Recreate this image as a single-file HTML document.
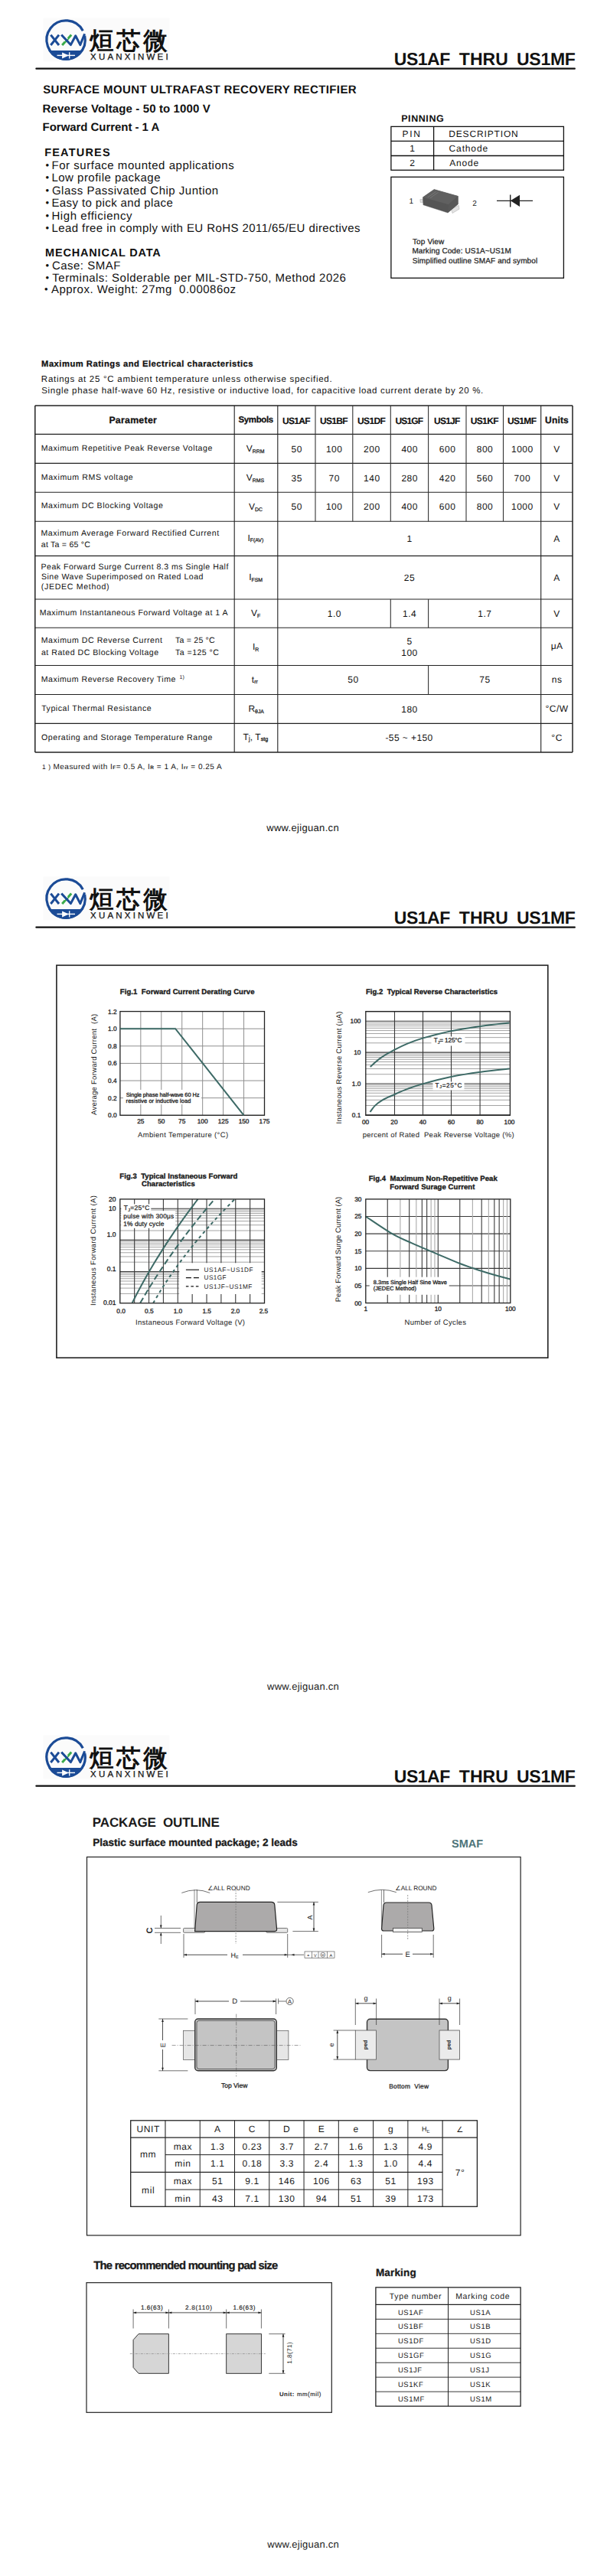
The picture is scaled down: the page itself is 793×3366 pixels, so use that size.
<!DOCTYPE html>
<html><head><meta charset="utf-8"><title>US1AF THRU US1MF</title>
<style>
html,body{margin:0;padding:0;background:#fff;}
body{width:793px;height:3366px;overflow:hidden;position:relative;}
svg{position:absolute;left:0;top:0;display:block;}
text{font-family:'Liberation Sans', Arial, sans-serif;}
</style></head><body>
<svg width="793" height="3366" viewBox="0 0 793 3366" text-rendering="geometricPrecision">
<g transform="translate(0,0)">
<rect x="56.50" y="23.50" width="165.00" height="57.00" stroke="none" stroke-width="0" fill="#fbfbfb" />
<path d="M63.28,66.1 A26.799999999999997,26.799999999999997 0 0 0 108.92,66.1 Z" fill="#1b4b96"/>
<path d="M110.70,46.82 A25.15,25.15 0 1 1 108.31,40.24" fill="none" stroke="#1b4b96" stroke-width="3.2"/>
<line x1="74.50" y1="72.40" x2="98.00" y2="72.40" stroke="#fff" stroke-width="1.4" />
<path d="M81.1,68.4 L89.8,72.4 L81.1,76.5 Z" fill="#fff"/>
<line x1="90.70" y1="68.30" x2="90.70" y2="76.60" stroke="#fff" stroke-width="1.3" />
<line x1="66.30" y1="45.60" x2="77.00" y2="59.00" stroke="#1b4b96" stroke-width="3.0" />
<line x1="77.00" y1="45.60" x2="66.30" y2="59.00" stroke="#1b4b96" stroke-width="3.0" />
<line x1="93.20" y1="45.60" x2="81.20" y2="59.00" stroke="#3aab4a" stroke-width="3.0" />
<path d="M80.2,45.2 L86.6,52.3" fill="none" stroke="#fbfbfb" stroke-width="6"/>
<polyline points="80.2,45.4 92.4,58.6 98.7,46.8 104.8,58.6 110.6,44.2" fill="none" stroke="#1b4b96" stroke-width="3.0" stroke-linejoin="round"/>
<text x="117.00" y="63.90" font-size="31.5" fill="#111" textLength="101.80" lengthAdjust="spacing" font-family="'Liberation Sans', 'Noto Sans CJK SC', sans-serif" font-weight="bold">烜芯微</text>
<text x="118.04" y="77.90" font-size="11.5" fill="#111" textLength="101.62" lengthAdjust="spacing" stroke="#111" stroke-width="0.25">XUANXINWEI</text>
<rect x="46.30" y="88.50" width="705.60" height="2.20" stroke="none" stroke-width="0" fill="#111" rx="1"/>
<text x="514.82" y="84.70" font-size="23" font-weight="bold" fill="#111" textLength="73.42" lengthAdjust="spacing">US1AF</text>
<text x="599.84" y="84.70" font-size="23" font-weight="bold" fill="#111" textLength="63.96" lengthAdjust="spacing">THRU</text>
<text x="675.02" y="84.70" font-size="23" font-weight="bold" fill="#111" textLength="76.82" lengthAdjust="spacing">US1MF</text>
</g>
<g transform="translate(0,1122)">
<rect x="56.50" y="23.50" width="165.00" height="57.00" stroke="none" stroke-width="0" fill="#fbfbfb" />
<path d="M63.28,66.1 A26.799999999999997,26.799999999999997 0 0 0 108.92,66.1 Z" fill="#1b4b96"/>
<path d="M110.70,46.82 A25.15,25.15 0 1 1 108.31,40.24" fill="none" stroke="#1b4b96" stroke-width="3.2"/>
<line x1="74.50" y1="72.40" x2="98.00" y2="72.40" stroke="#fff" stroke-width="1.4" />
<path d="M81.1,68.4 L89.8,72.4 L81.1,76.5 Z" fill="#fff"/>
<line x1="90.70" y1="68.30" x2="90.70" y2="76.60" stroke="#fff" stroke-width="1.3" />
<line x1="66.30" y1="45.60" x2="77.00" y2="59.00" stroke="#1b4b96" stroke-width="3.0" />
<line x1="77.00" y1="45.60" x2="66.30" y2="59.00" stroke="#1b4b96" stroke-width="3.0" />
<line x1="93.20" y1="45.60" x2="81.20" y2="59.00" stroke="#3aab4a" stroke-width="3.0" />
<path d="M80.2,45.2 L86.6,52.3" fill="none" stroke="#fbfbfb" stroke-width="6"/>
<polyline points="80.2,45.4 92.4,58.6 98.7,46.8 104.8,58.6 110.6,44.2" fill="none" stroke="#1b4b96" stroke-width="3.0" stroke-linejoin="round"/>
<text x="117.00" y="63.90" font-size="31.5" fill="#111" textLength="101.80" lengthAdjust="spacing" font-family="'Liberation Sans', 'Noto Sans CJK SC', sans-serif" font-weight="bold">烜芯微</text>
<text x="118.04" y="77.90" font-size="11.5" fill="#111" textLength="101.62" lengthAdjust="spacing" stroke="#111" stroke-width="0.25">XUANXINWEI</text>
<rect x="46.30" y="88.50" width="705.60" height="2.20" stroke="none" stroke-width="0" fill="#111" rx="1"/>
<text x="514.82" y="84.70" font-size="23" font-weight="bold" fill="#111" textLength="73.42" lengthAdjust="spacing">US1AF</text>
<text x="599.84" y="84.70" font-size="23" font-weight="bold" fill="#111" textLength="63.96" lengthAdjust="spacing">THRU</text>
<text x="675.02" y="84.70" font-size="23" font-weight="bold" fill="#111" textLength="76.82" lengthAdjust="spacing">US1MF</text>
</g>
<g transform="translate(0,2244)">
<rect x="56.50" y="23.50" width="165.00" height="57.00" stroke="none" stroke-width="0" fill="#fbfbfb" />
<path d="M63.28,66.1 A26.799999999999997,26.799999999999997 0 0 0 108.92,66.1 Z" fill="#1b4b96"/>
<path d="M110.70,46.82 A25.15,25.15 0 1 1 108.31,40.24" fill="none" stroke="#1b4b96" stroke-width="3.2"/>
<line x1="74.50" y1="72.40" x2="98.00" y2="72.40" stroke="#fff" stroke-width="1.4" />
<path d="M81.1,68.4 L89.8,72.4 L81.1,76.5 Z" fill="#fff"/>
<line x1="90.70" y1="68.30" x2="90.70" y2="76.60" stroke="#fff" stroke-width="1.3" />
<line x1="66.30" y1="45.60" x2="77.00" y2="59.00" stroke="#1b4b96" stroke-width="3.0" />
<line x1="77.00" y1="45.60" x2="66.30" y2="59.00" stroke="#1b4b96" stroke-width="3.0" />
<line x1="93.20" y1="45.60" x2="81.20" y2="59.00" stroke="#3aab4a" stroke-width="3.0" />
<path d="M80.2,45.2 L86.6,52.3" fill="none" stroke="#fbfbfb" stroke-width="6"/>
<polyline points="80.2,45.4 92.4,58.6 98.7,46.8 104.8,58.6 110.6,44.2" fill="none" stroke="#1b4b96" stroke-width="3.0" stroke-linejoin="round"/>
<text x="117.00" y="63.90" font-size="31.5" fill="#111" textLength="101.80" lengthAdjust="spacing" font-family="'Liberation Sans', 'Noto Sans CJK SC', sans-serif" font-weight="bold">烜芯微</text>
<text x="118.04" y="77.90" font-size="11.5" fill="#111" textLength="101.62" lengthAdjust="spacing" stroke="#111" stroke-width="0.25">XUANXINWEI</text>
<rect x="46.30" y="88.50" width="705.60" height="2.20" stroke="none" stroke-width="0" fill="#111" rx="1"/>
<text x="514.82" y="84.70" font-size="23" font-weight="bold" fill="#111" textLength="73.42" lengthAdjust="spacing">US1AF</text>
<text x="599.84" y="84.70" font-size="23" font-weight="bold" fill="#111" textLength="63.96" lengthAdjust="spacing">THRU</text>
<text x="675.02" y="84.70" font-size="23" font-weight="bold" fill="#111" textLength="76.82" lengthAdjust="spacing">US1MF</text>
</g>
<text x="56.17" y="122.20" font-size="15" font-weight="bold" fill="#111" textLength="409.44" lengthAdjust="spacing">SURFACE MOUNT ULTRAFAST RECOVERY RECTIFIER</text>
<text x="55.60" y="146.70" font-size="15" font-weight="bold" fill="#111" textLength="219.11" lengthAdjust="spacing">Reverse Voltage - 50 to 1000 V</text>
<text x="55.60" y="171.10" font-size="15" font-weight="bold" fill="#111" textLength="152.70" lengthAdjust="spacing">Forward Current - 1 A</text>
<text x="58.23" y="203.80" font-size="14.5" font-weight="bold" fill="#111" textLength="85.34" lengthAdjust="spacing">FEATURES</text>
<text x="59.40" y="220.00" font-size="13" fill="#111">•</text>
<text x="67.47" y="221.00" font-size="15" fill="#111" textLength="238.27" lengthAdjust="spacing">For surface mounted applications</text>
<text x="59.40" y="236.40" font-size="13" fill="#111">•</text>
<text x="67.47" y="237.40" font-size="15" fill="#111" textLength="142.00" lengthAdjust="spacing">Low profile package</text>
<text x="59.40" y="252.80" font-size="13" fill="#111">•</text>
<text x="67.95" y="253.80" font-size="15" fill="#111" textLength="217.23" lengthAdjust="spacing">Glass Passivated Chip Juntion</text>
<text x="59.40" y="269.20" font-size="13" fill="#111">•</text>
<text x="67.47" y="270.20" font-size="15" fill="#111" textLength="158.30" lengthAdjust="spacing">Easy to pick and place</text>
<text x="59.40" y="285.60" font-size="13" fill="#111">•</text>
<text x="67.47" y="286.60" font-size="15" fill="#111" textLength="105.06" lengthAdjust="spacing">High efficiency</text>
<text x="59.40" y="302.00" font-size="13" fill="#111">•</text>
<text x="67.47" y="303.00" font-size="15" fill="#111" textLength="403.07" lengthAdjust="spacing">Lead free in comply with EU RoHS 2011/65/EU directives</text>
<text x="59.03" y="335.00" font-size="14.5" font-weight="bold" fill="#111" textLength="150.75" lengthAdjust="spacing">MECHANICAL DATA</text>
<text x="59.40" y="351.20" font-size="13" fill="#111">•</text>
<text x="67.94" y="352.20" font-size="15" fill="#111" textLength="89.36" lengthAdjust="spacing">Case: SMAF</text>
<text x="59.40" y="366.70" font-size="13" fill="#111">•</text>
<text x="68.36" y="367.70" font-size="15" fill="#111" textLength="383.50" lengthAdjust="spacing">Terminals: Solderable per MIL-STD-750, Method 2026</text>
<text x="58.00" y="382.20" font-size="13" fill="#111">•</text>
<text x="66.97" y="383.20" font-size="15" fill="#111" textLength="241.08" lengthAdjust="spacing">Approx. Weight: 27mg  0.00086oz</text>
<text x="524.16" y="159.20" font-size="12.5" font-weight="bold" fill="#111" textLength="55.61" lengthAdjust="spacing">PINNING</text>
<rect x="510.90" y="165.40" width="225.50" height="56.90" stroke="#111" stroke-width="1.3" fill="none" />
<line x1="510.90" y1="184.40" x2="736.40" y2="184.40" stroke="#111" stroke-width="1.3" />
<line x1="510.90" y1="203.50" x2="736.40" y2="203.50" stroke="#111" stroke-width="1.3" />
<line x1="566.60" y1="165.40" x2="566.60" y2="222.30" stroke="#111" stroke-width="1.3" />
<text x="525.42" y="179.00" font-size="12" fill="#111" textLength="23.46" lengthAdjust="spacing">PIN</text>
<text x="538.50" y="198.10" font-size="12" text-anchor="middle" fill="#111">1</text>
<text x="538.50" y="217.30" font-size="12" text-anchor="middle" fill="#111">2</text>
<text x="586.22" y="179.00" font-size="12" fill="#111" textLength="90.56" lengthAdjust="spacing">DESCRIPTION</text>
<text x="586.59" y="198.10" font-size="12" fill="#111" textLength="50.54" lengthAdjust="spacing">Cathode</text>
<text x="587.18" y="217.30" font-size="12" fill="#111" textLength="37.96" lengthAdjust="spacing">Anode</text>
<rect x="510.90" y="231.30" width="225.50" height="132.00" stroke="#111" stroke-width="1.3" fill="none" />
<text x="537.30" y="266.20" font-size="10" text-anchor="middle" fill="#222">1</text>
<text x="620.00" y="269.40" font-size="10" text-anchor="middle" fill="#222">2</text>
<path d="M548.8,260.6 L552.6,260.2 L552.8,264.4 L549.2,264.5 Z" fill="#e0e0e0" stroke="#aaa" stroke-width="0.5"/>
<path d="M589.5,273.3 L599.2,268.3 L600,273.2 L591,278.6 Z" fill="#e2e2e2" stroke="#aaa" stroke-width="0.5"/>
<path d="M552.4,257.8 L567.2,247.4 L598.4,256.3 L598.4,266.7 L585,278.1 L552.9,267.7 Z" fill="#555" stroke="#555" stroke-width="0.4"/>
<path d="M552.4,257.8 L567.2,247.4 L598.4,256.3 L586,267.2 Z" fill="#606060"/>
<path d="M586,267.2 L598.4,256.3 L598.4,266.7 L585,278.1 Z" fill="#585858"/>
<line x1="558.80" y1="257.80" x2="569.70" y2="250.40" stroke="#8c8c8c" stroke-width="0.5" />
<line x1="562.00" y1="258.70" x2="572.60" y2="251.30" stroke="#8c8c8c" stroke-width="0.5" />
<line x1="649.00" y1="262.30" x2="696.00" y2="262.30" stroke="#222" stroke-width="1.2" />
<line x1="666.70" y1="254.50" x2="666.70" y2="270.60" stroke="#222" stroke-width="1.4" />
<path d="M666.9,262.3 L679,254.8 L679,270 Z" fill="#222"/>
<text x="538.98" y="318.90" font-size="10" fill="#222" textLength="41.30" lengthAdjust="spacing" stroke="#222" stroke-width="0.25">Top View</text>
<text x="538.38" y="331.40" font-size="10" fill="#222" textLength="129.44" lengthAdjust="spacing" stroke="#222" stroke-width="0.25">Marking Code: US1A~US1M</text>
<text x="538.75" y="344.00" font-size="10" fill="#222" textLength="163.42" lengthAdjust="spacing" stroke="#222" stroke-width="0.25">Simplified outline SMAF and symbol</text>
<text x="54.05" y="479.00" font-size="11.2" font-weight="bold" fill="#111" textLength="276.51" lengthAdjust="spacing" stroke="#1a1a1a" stroke-width="0.3">Maximum Ratings and Electrical characteristics</text>
<text x="53.86" y="499.00" font-size="11.5" fill="#111" textLength="379.79" lengthAdjust="spacing">Ratings at 25 °C ambient temperature unless otherwise specified.</text>
<text x="54.28" y="514.40" font-size="11.5" fill="#111" textLength="576.97" lengthAdjust="spacing">Single phase half-wave 60 Hz, resistive or inductive load, for capacitive load current derate by 20 %.</text>
<line x1="45.80" y1="529.90" x2="748.00" y2="529.90" stroke="#222" stroke-width="1.5" />
<line x1="45.80" y1="567.40" x2="748.00" y2="567.40" stroke="#222" stroke-width="1.1" />
<line x1="45.80" y1="605.40" x2="748.00" y2="605.40" stroke="#222" stroke-width="1.1" />
<line x1="45.80" y1="643.20" x2="748.00" y2="643.20" stroke="#222" stroke-width="1.1" />
<line x1="45.80" y1="681.20" x2="748.00" y2="681.20" stroke="#222" stroke-width="1.1" />
<line x1="45.80" y1="726.40" x2="748.00" y2="726.40" stroke="#222" stroke-width="1.1" />
<line x1="45.80" y1="783.00" x2="748.00" y2="783.00" stroke="#222" stroke-width="1.1" />
<line x1="45.80" y1="820.20" x2="748.00" y2="820.20" stroke="#222" stroke-width="1.1" />
<line x1="45.80" y1="869.50" x2="748.00" y2="869.50" stroke="#222" stroke-width="1.1" />
<line x1="45.80" y1="907.50" x2="748.00" y2="907.50" stroke="#222" stroke-width="1.1" />
<line x1="45.80" y1="945.40" x2="748.00" y2="945.40" stroke="#222" stroke-width="1.1" />
<line x1="45.80" y1="983.00" x2="748.00" y2="983.00" stroke="#222" stroke-width="1.5" />
<line x1="45.80" y1="529.90" x2="45.80" y2="983.00" stroke="#222" stroke-width="1.5" />
<line x1="748.00" y1="529.90" x2="748.00" y2="983.00" stroke="#222" stroke-width="1.5" />
<line x1="306.20" y1="529.90" x2="306.20" y2="983.00" stroke="#222" stroke-width="1.1" />
<line x1="362.80" y1="529.90" x2="362.80" y2="983.00" stroke="#222" stroke-width="1.1" />
<line x1="706.70" y1="529.90" x2="706.70" y2="983.00" stroke="#222" stroke-width="1.1" />
<line x1="412.00" y1="529.90" x2="412.00" y2="681.20" stroke="#333" stroke-width="1.1" />
<line x1="460.80" y1="529.90" x2="460.80" y2="681.20" stroke="#333" stroke-width="1.1" />
<line x1="510.30" y1="529.90" x2="510.30" y2="681.20" stroke="#333" stroke-width="1.1" />
<line x1="559.60" y1="529.90" x2="559.60" y2="681.20" stroke="#333" stroke-width="1.1" />
<line x1="609.00" y1="529.90" x2="609.00" y2="681.20" stroke="#333" stroke-width="1.1" />
<line x1="657.50" y1="529.90" x2="657.50" y2="681.20" stroke="#333" stroke-width="1.1" />
<line x1="510.30" y1="783.00" x2="510.30" y2="820.20" stroke="#333" stroke-width="1.1" />
<line x1="559.60" y1="783.00" x2="559.60" y2="820.20" stroke="#333" stroke-width="1.1" />
<line x1="559.60" y1="869.50" x2="559.60" y2="907.50" stroke="#333" stroke-width="1.1" />
<text x="142.38" y="553.40" font-size="12.3" font-weight="bold" fill="#111" textLength="62.41" lengthAdjust="spacing" stroke="#1a1a1a" stroke-width="0.3">Parameter</text>
<text x="311.57" y="552.30" font-size="11.5" font-weight="bold" fill="#111" textLength="45.60" lengthAdjust="spacing" stroke="#1a1a1a" stroke-width="0.3">Symbols</text>
<text x="368.88" y="554.00" font-size="12" font-weight="bold" fill="#111" textLength="36.76" lengthAdjust="spacing" stroke="#1a1a1a" stroke-width="0.15">US1AF</text>
<text x="417.88" y="554.00" font-size="12" font-weight="bold" fill="#111" textLength="36.76" lengthAdjust="spacing" stroke="#1a1a1a" stroke-width="0.15">US1BF</text>
<text x="467.03" y="554.00" font-size="12" font-weight="bold" fill="#111" textLength="36.76" lengthAdjust="spacing" stroke="#1a1a1a" stroke-width="0.15">US1DF</text>
<text x="516.43" y="554.00" font-size="12" font-weight="bold" fill="#111" textLength="36.76" lengthAdjust="spacing" stroke="#1a1a1a" stroke-width="0.15">US1GF</text>
<text x="567.08" y="554.00" font-size="12" font-weight="bold" fill="#111" textLength="34.16" lengthAdjust="spacing" stroke="#1a1a1a" stroke-width="0.15">US1JF</text>
<text x="614.73" y="554.00" font-size="12" font-weight="bold" fill="#111" textLength="36.76" lengthAdjust="spacing" stroke="#1a1a1a" stroke-width="0.15">US1KF</text>
<text x="662.88" y="554.00" font-size="12" font-weight="bold" fill="#111" textLength="38.16" lengthAdjust="spacing" stroke="#1a1a1a" stroke-width="0.15">US1MF</text>
<text x="712.08" y="553.40" font-size="12" font-weight="bold" fill="#111" textLength="30.71" lengthAdjust="spacing" stroke="#1a1a1a" stroke-width="0.3">Units</text>
<text x="53.73" y="588.50" font-size="10.6" fill="#111" textLength="223.64" lengthAdjust="spacing">Maximum Repetitive Peak Reverse Voltage</text>
<text x="53.73" y="626.50" font-size="10.6" fill="#111" textLength="120.04" lengthAdjust="spacing">Maximum RMS voltage</text>
<text x="53.73" y="664.30" font-size="10.6" fill="#111" textLength="159.14" lengthAdjust="spacing">Maximum DC Blocking Voltage</text>
<text x="53.53" y="699.60" font-size="10.6" fill="#111" textLength="232.55" lengthAdjust="spacing">Maximum Average Forward Rectified Current</text>
<text x="53.75" y="714.50" font-size="10.6" fill="#111" textLength="64.25" lengthAdjust="spacing">at Ta = 65 °C</text>
<text x="53.53" y="743.50" font-size="10.6" fill="#111" textLength="244.85" lengthAdjust="spacing">Peak Forward Surge Current 8.3 ms Single Half</text>
<text x="53.92" y="756.60" font-size="10.6" fill="#111" textLength="211.56" lengthAdjust="spacing">Sine Wave Superimposed on Rated Load</text>
<text x="53.74" y="769.80" font-size="10.6" fill="#111" textLength="88.91" lengthAdjust="spacing">(JEDEC Method)</text>
<text x="51.63" y="804.40" font-size="10.6" fill="#111" textLength="245.89" lengthAdjust="spacing">Maximum Instantaneous Forward Voltage at 1 A</text>
<text x="53.73" y="839.80" font-size="10.6" fill="#111" textLength="158.15" lengthAdjust="spacing">Maximum DC Reverse Current</text>
<text x="53.95" y="855.70" font-size="10.6" fill="#111" textLength="153.22" lengthAdjust="spacing">at Rated DC Blocking Voltage</text>
<text x="53.73" y="890.80" font-size="10.6" fill="#111" textLength="175.64" lengthAdjust="spacing">Maximum Reverse Recovery Time</text>
<text x="54.16" y="929.30" font-size="10.6" fill="#111" textLength="143.51" lengthAdjust="spacing">Typical Thermal Resistance</text>
<text x="54.10" y="967.00" font-size="10.6" fill="#111" textLength="223.27" lengthAdjust="spacing">Operating and Storage Temperature Range</text>
<text x="229.06" y="839.80" font-size="10.6" fill="#111" textLength="51.64" lengthAdjust="spacing">Ta = 25 °C</text>
<text x="229.06" y="855.70" font-size="10.6" fill="#111" textLength="56.84" lengthAdjust="spacing">Ta =125 °C</text>
<text x="234.60" y="887.00" font-size="7" fill="#111">1)</text>
<text x="321.80" y="590.40" font-size="12" fill="#111"><tspan>V</tspan><tspan font-size="6.9" stroke="#1a1a1a" stroke-width="0.25" dy="1.7">RRM</tspan></text>
<text x="321.80" y="628.30" font-size="12" fill="#111"><tspan>V</tspan><tspan font-size="6.9" stroke="#1a1a1a" stroke-width="0.25" dy="1.7">RMS</tspan></text>
<text x="325.10" y="665.90" font-size="12" fill="#111"><tspan>V</tspan><tspan font-size="6.9" stroke="#1a1a1a" stroke-width="0.25" dy="1.7">DC</tspan></text>
<text x="323.40" y="706.60" font-size="12" fill="#111"><tspan>I</tspan><tspan font-size="6.9" stroke="#1a1a1a" stroke-width="0.25" dy="1.7">F(AV)</tspan></text>
<text x="325.20" y="758.30" font-size="12" fill="#111"><tspan>I</tspan><tspan font-size="6.9" stroke="#1a1a1a" stroke-width="0.25" dy="1.7">FSM</tspan></text>
<text x="328.00" y="804.90" font-size="12" fill="#111"><tspan>V</tspan><tspan font-size="6.9" stroke="#1a1a1a" stroke-width="0.25" dy="1.7">F</tspan></text>
<text x="330.00" y="848.80" font-size="12" fill="#111"><tspan>I</tspan><tspan font-size="6.9" stroke="#1a1a1a" stroke-width="0.25" dy="1.7">R</tspan></text>
<text x="328.80" y="891.50" font-size="12" fill="#111"><tspan>t</tspan><tspan font-size="6.9" stroke="#1a1a1a" stroke-width="0.25" dy="1.7">rr</tspan></text>
<text x="324.40" y="929.80" font-size="12" fill="#111"><tspan>R</tspan><tspan font-size="6.9" stroke="#1a1a1a" stroke-width="0.25" dy="1.7">θJA</tspan></text>
<text x="317.40" y="966.70" font-size="12" fill="#111"><tspan>T</tspan><tspan font-size="9.5" dy="1">j</tspan><tspan dy="-1">, T</tspan><tspan font-size="7.2" stroke="#1a1a1a" stroke-width="0.3" dy="1.5">stg</tspan></text>
<text x="387.40" y="591.10" font-size="12" text-anchor="middle" fill="#111" letter-spacing="0.5" dx="0.25">50</text>
<text x="436.40" y="591.10" font-size="12" text-anchor="middle" fill="#111" letter-spacing="0.5" dx="0.25">100</text>
<text x="485.55" y="591.10" font-size="12" text-anchor="middle" fill="#111" letter-spacing="0.5" dx="0.25">200</text>
<text x="534.95" y="591.10" font-size="12" text-anchor="middle" fill="#111" letter-spacing="0.5" dx="0.25">400</text>
<text x="584.30" y="591.10" font-size="12" text-anchor="middle" fill="#111" letter-spacing="0.5" dx="0.25">600</text>
<text x="633.25" y="591.10" font-size="12" text-anchor="middle" fill="#111" letter-spacing="0.5" dx="0.25">800</text>
<text x="682.10" y="591.10" font-size="12" text-anchor="middle" fill="#111" letter-spacing="0.5" dx="0.25">1000</text>
<text x="387.40" y="628.80" font-size="12" text-anchor="middle" fill="#111" letter-spacing="0.5" dx="0.25">35</text>
<text x="436.40" y="628.80" font-size="12" text-anchor="middle" fill="#111" letter-spacing="0.5" dx="0.25">70</text>
<text x="485.55" y="628.80" font-size="12" text-anchor="middle" fill="#111" letter-spacing="0.5" dx="0.25">140</text>
<text x="534.95" y="628.80" font-size="12" text-anchor="middle" fill="#111" letter-spacing="0.5" dx="0.25">280</text>
<text x="584.30" y="628.80" font-size="12" text-anchor="middle" fill="#111" letter-spacing="0.5" dx="0.25">420</text>
<text x="633.25" y="628.80" font-size="12" text-anchor="middle" fill="#111" letter-spacing="0.5" dx="0.25">560</text>
<text x="682.10" y="628.80" font-size="12" text-anchor="middle" fill="#111" letter-spacing="0.5" dx="0.25">700</text>
<text x="387.40" y="665.60" font-size="12" text-anchor="middle" fill="#111" letter-spacing="0.5" dx="0.25">50</text>
<text x="436.40" y="665.60" font-size="12" text-anchor="middle" fill="#111" letter-spacing="0.5" dx="0.25">100</text>
<text x="485.55" y="665.60" font-size="12" text-anchor="middle" fill="#111" letter-spacing="0.5" dx="0.25">200</text>
<text x="534.95" y="665.60" font-size="12" text-anchor="middle" fill="#111" letter-spacing="0.5" dx="0.25">400</text>
<text x="584.30" y="665.60" font-size="12" text-anchor="middle" fill="#111" letter-spacing="0.5" dx="0.25">600</text>
<text x="633.25" y="665.60" font-size="12" text-anchor="middle" fill="#111" letter-spacing="0.5" dx="0.25">800</text>
<text x="682.10" y="665.60" font-size="12" text-anchor="middle" fill="#111" letter-spacing="0.5" dx="0.25">1000</text>
<text x="534.75" y="707.80" font-size="12" text-anchor="middle" fill="#111" letter-spacing="0.5" dx="0.25">1</text>
<text x="534.75" y="758.80" font-size="12" text-anchor="middle" fill="#111" letter-spacing="0.5" dx="0.25">25</text>
<text x="436.55" y="806.00" font-size="12" text-anchor="middle" fill="#111" letter-spacing="0.5" dx="0.25">1.0</text>
<text x="534.95" y="806.00" font-size="12" text-anchor="middle" fill="#111" letter-spacing="0.5" dx="0.25">1.4</text>
<text x="633.15" y="806.00" font-size="12" text-anchor="middle" fill="#111" letter-spacing="0.5" dx="0.25">1.7</text>
<text x="534.75" y="841.50" font-size="12" text-anchor="middle" fill="#111" letter-spacing="0.5" dx="0.25">5</text>
<text x="534.75" y="856.60" font-size="12" text-anchor="middle" fill="#111" letter-spacing="0.5" dx="0.25">100</text>
<text x="461.20" y="891.80" font-size="12" text-anchor="middle" fill="#111" letter-spacing="0.5" dx="0.25">50</text>
<text x="633.15" y="891.80" font-size="12" text-anchor="middle" fill="#111" letter-spacing="0.5" dx="0.25">75</text>
<text x="534.75" y="930.70" font-size="12" text-anchor="middle" fill="#111" letter-spacing="0.5" dx="0.25">180</text>
<text x="503.47" y="967.60" font-size="12" fill="#111" textLength="61.80" lengthAdjust="spacing">-55 ~ +150</text>
<text x="727.35" y="591.10" font-size="12" text-anchor="middle" fill="#111" letter-spacing="0.5" dx="0.25">V</text>
<text x="727.35" y="628.80" font-size="12" text-anchor="middle" fill="#111" letter-spacing="0.5" dx="0.25">V</text>
<text x="727.35" y="665.60" font-size="12" text-anchor="middle" fill="#111" letter-spacing="0.5" dx="0.25">V</text>
<text x="727.35" y="707.80" font-size="12" text-anchor="middle" fill="#111" letter-spacing="0.5" dx="0.25">A</text>
<text x="727.35" y="758.80" font-size="12" text-anchor="middle" fill="#111" letter-spacing="0.5" dx="0.25">A</text>
<text x="727.35" y="806.00" font-size="12" text-anchor="middle" fill="#111" letter-spacing="0.5" dx="0.25">V</text>
<text x="727.35" y="848.10" font-size="12" text-anchor="middle" fill="#111" letter-spacing="0.5" dx="0.25">μA</text>
<text x="727.35" y="891.60" font-size="12" text-anchor="middle" fill="#111" letter-spacing="0.5" dx="0.25">ns</text>
<text x="727.35" y="930.40" font-size="12" text-anchor="middle" fill="#111" letter-spacing="0.5" dx="0.25">°C/W</text>
<text x="727.35" y="967.60" font-size="12" text-anchor="middle" fill="#111" letter-spacing="0.5" dx="0.25">°C</text>
<text x="55.10" y="1005.40" font-size="10" fill="#111" textLength="234.60" lengthAdjust="spacing"><tspan font-size="8.5">1 )</tspan><tspan dx="3">Measured with I</tspan><tspan font-size="6.5" font-weight="bold">F</tspan><tspan>= 0.5 A, I</tspan><tspan font-size="6.5" font-weight="bold">R</tspan><tspan> = 1 A, I</tspan><tspan font-size="6.5" font-weight="bold">rr</tspan><tspan> = 0.25 A</tspan></text>
<text x="348.22" y="1085.80" font-size="13" fill="#111" textLength="94.43" lengthAdjust="spacing">www.ejiguan.cn</text>
<g transform="translate(0,1122)">
<rect x="73.90" y="139.30" width="641.90" height="512.90" stroke="#222" stroke-width="1.6" fill="none" />
<line x1="183.84" y1="199.60" x2="183.84" y2="335.30" stroke="#8f8f8f" stroke-width="1" />
<line x1="156.90" y1="222.22" x2="345.50" y2="222.22" stroke="#8f8f8f" stroke-width="1" />
<line x1="210.79" y1="199.60" x2="210.79" y2="335.30" stroke="#8f8f8f" stroke-width="1" />
<line x1="156.90" y1="244.83" x2="345.50" y2="244.83" stroke="#8f8f8f" stroke-width="1" />
<line x1="237.73" y1="199.60" x2="237.73" y2="335.30" stroke="#8f8f8f" stroke-width="1" />
<line x1="156.90" y1="267.45" x2="345.50" y2="267.45" stroke="#8f8f8f" stroke-width="1" />
<line x1="264.67" y1="199.60" x2="264.67" y2="335.30" stroke="#8f8f8f" stroke-width="1" />
<line x1="156.90" y1="290.07" x2="345.50" y2="290.07" stroke="#8f8f8f" stroke-width="1" />
<line x1="291.61" y1="199.60" x2="291.61" y2="335.30" stroke="#8f8f8f" stroke-width="1" />
<line x1="156.90" y1="312.68" x2="345.50" y2="312.68" stroke="#8f8f8f" stroke-width="1" />
<line x1="318.56" y1="199.60" x2="318.56" y2="335.30" stroke="#8f8f8f" stroke-width="1" />
<line x1="156.90" y1="335.30" x2="345.50" y2="335.30" stroke="#8f8f8f" stroke-width="1" />
<rect x="161.00" y="302.00" width="102.00" height="19.00" stroke="none" stroke-width="0" fill="#fff" />
<text x="164.76" y="311.00" font-size="7.4" fill="#1a1a1a" textLength="95.60" lengthAdjust="spacing" stroke="#1a1a1a" stroke-width="0.3">Single phase half-wave 60 Hz</text>
<text x="164.61" y="318.80" font-size="7.4" fill="#1a1a1a" textLength="84.67" lengthAdjust="spacing" stroke="#1a1a1a" stroke-width="0.3">resistive or inductive load</text>
<rect x="156.90" y="199.60" width="188.60" height="135.70" stroke="#222" stroke-width="1.3" fill="none" />
<polyline points="156.90,222.22 229.11,222.22 318.56,335.30" fill="none" stroke="#3d6a66" stroke-width="2"/>
<text x="152.60" y="202.50" font-size="8.3" text-anchor="end" fill="#1a1a1a" stroke="#1a1a1a" stroke-width="0.3">1.2</text>
<text x="152.60" y="225.12" font-size="8.3" text-anchor="end" fill="#1a1a1a" stroke="#1a1a1a" stroke-width="0.3">1.0</text>
<text x="152.60" y="247.73" font-size="8.3" text-anchor="end" fill="#1a1a1a" stroke="#1a1a1a" stroke-width="0.3">0.8</text>
<text x="152.60" y="270.35" font-size="8.3" text-anchor="end" fill="#1a1a1a" stroke="#1a1a1a" stroke-width="0.3">0.6</text>
<text x="152.60" y="292.97" font-size="8.3" text-anchor="end" fill="#1a1a1a" stroke="#1a1a1a" stroke-width="0.3">0.4</text>
<text x="152.60" y="315.58" font-size="8.3" text-anchor="end" fill="#1a1a1a" stroke="#1a1a1a" stroke-width="0.3">0.2</text>
<text x="152.60" y="338.20" font-size="8.3" text-anchor="end" fill="#1a1a1a" stroke="#1a1a1a" stroke-width="0.3">0.0</text>
<text x="183.84" y="346.00" font-size="8.3" text-anchor="middle" fill="#1a1a1a" stroke="#1a1a1a" stroke-width="0.3">25</text>
<text x="210.79" y="346.00" font-size="8.3" text-anchor="middle" fill="#1a1a1a" stroke="#1a1a1a" stroke-width="0.3">50</text>
<text x="237.73" y="346.00" font-size="8.3" text-anchor="middle" fill="#1a1a1a" stroke="#1a1a1a" stroke-width="0.3">75</text>
<text x="264.67" y="346.00" font-size="8.3" text-anchor="middle" fill="#1a1a1a" stroke="#1a1a1a" stroke-width="0.3">100</text>
<text x="291.61" y="346.00" font-size="8.3" text-anchor="middle" fill="#1a1a1a" stroke="#1a1a1a" stroke-width="0.3">125</text>
<text x="318.56" y="346.00" font-size="8.3" text-anchor="middle" fill="#1a1a1a" stroke="#1a1a1a" stroke-width="0.3">150</text>
<text x="345.50" y="346.00" font-size="8.3" text-anchor="middle" fill="#1a1a1a" stroke="#1a1a1a" stroke-width="0.3">175</text>
<text x="156.86" y="176.50" font-size="9.5" font-weight="bold" fill="#1a1a1a" letter-spacing="-0.3" textLength="175.26" lengthAdjust="spacing" stroke="#1a1a1a" stroke-width="0.35">Fig.1  Forward Current Derating Curve</text>
<text x="179.98" y="364.40" font-size="9.5" fill="#1a1a1a" textLength="118.11" lengthAdjust="spacing">Ambient Temperature (°C)</text>
<text transform="translate(126.30,268.90) rotate(-90)" x="0" y="0" font-size="9.5" text-anchor="middle" fill="#1a1a1a" textLength="132.20" lengthAdjust="spacing">Average Forward Current  (A)</text>
<line x1="477.80" y1="200.02" x2="666.40" y2="200.02" stroke="#9a9a9a" stroke-width="0.9" />
<line x1="477.80" y1="240.82" x2="666.40" y2="240.82" stroke="#9a9a9a" stroke-width="0.9" />
<line x1="477.80" y1="233.63" x2="666.40" y2="233.63" stroke="#9a9a9a" stroke-width="0.9" />
<line x1="477.80" y1="228.54" x2="666.40" y2="228.54" stroke="#9a9a9a" stroke-width="0.9" />
<line x1="477.80" y1="224.58" x2="666.40" y2="224.58" stroke="#9a9a9a" stroke-width="0.9" />
<line x1="477.80" y1="221.35" x2="666.40" y2="221.35" stroke="#9a9a9a" stroke-width="0.9" />
<line x1="477.80" y1="218.62" x2="666.40" y2="218.62" stroke="#9a9a9a" stroke-width="0.9" />
<line x1="477.80" y1="216.25" x2="666.40" y2="216.25" stroke="#9a9a9a" stroke-width="0.9" />
<line x1="477.80" y1="214.17" x2="666.40" y2="214.17" stroke="#9a9a9a" stroke-width="0.9" />
<line x1="477.80" y1="281.72" x2="666.40" y2="281.72" stroke="#9a9a9a" stroke-width="0.9" />
<line x1="477.80" y1="274.53" x2="666.40" y2="274.53" stroke="#9a9a9a" stroke-width="0.9" />
<line x1="477.80" y1="269.44" x2="666.40" y2="269.44" stroke="#9a9a9a" stroke-width="0.9" />
<line x1="477.80" y1="265.48" x2="666.40" y2="265.48" stroke="#9a9a9a" stroke-width="0.9" />
<line x1="477.80" y1="262.25" x2="666.40" y2="262.25" stroke="#9a9a9a" stroke-width="0.9" />
<line x1="477.80" y1="259.52" x2="666.40" y2="259.52" stroke="#9a9a9a" stroke-width="0.9" />
<line x1="477.80" y1="257.15" x2="666.40" y2="257.15" stroke="#9a9a9a" stroke-width="0.9" />
<line x1="477.80" y1="255.07" x2="666.40" y2="255.07" stroke="#9a9a9a" stroke-width="0.9" />
<line x1="477.80" y1="322.52" x2="666.40" y2="322.52" stroke="#9a9a9a" stroke-width="0.9" />
<line x1="477.80" y1="315.33" x2="666.40" y2="315.33" stroke="#9a9a9a" stroke-width="0.9" />
<line x1="477.80" y1="310.24" x2="666.40" y2="310.24" stroke="#9a9a9a" stroke-width="0.9" />
<line x1="477.80" y1="306.28" x2="666.40" y2="306.28" stroke="#9a9a9a" stroke-width="0.9" />
<line x1="477.80" y1="303.05" x2="666.40" y2="303.05" stroke="#9a9a9a" stroke-width="0.9" />
<line x1="477.80" y1="300.32" x2="666.40" y2="300.32" stroke="#9a9a9a" stroke-width="0.9" />
<line x1="477.80" y1="297.95" x2="666.40" y2="297.95" stroke="#9a9a9a" stroke-width="0.9" />
<line x1="477.80" y1="295.87" x2="666.40" y2="295.87" stroke="#9a9a9a" stroke-width="0.9" />
<line x1="477.80" y1="212.30" x2="666.40" y2="212.30" stroke="#3a3a3a" stroke-width="1.1" />
<line x1="477.80" y1="253.10" x2="666.40" y2="253.10" stroke="#3a3a3a" stroke-width="1.1" />
<line x1="477.80" y1="294.00" x2="666.40" y2="294.00" stroke="#3a3a3a" stroke-width="1.1" />
<line x1="477.80" y1="334.80" x2="666.40" y2="334.80" stroke="#3a3a3a" stroke-width="1.1" />
<line x1="515.50" y1="199.60" x2="515.50" y2="335.40" stroke="#3a3a3a" stroke-width="1.1" />
<line x1="552.50" y1="199.60" x2="552.50" y2="335.40" stroke="#3a3a3a" stroke-width="1.1" />
<line x1="589.50" y1="199.60" x2="589.50" y2="335.40" stroke="#3a3a3a" stroke-width="1.1" />
<line x1="627.10" y1="199.60" x2="627.10" y2="335.40" stroke="#3a3a3a" stroke-width="1.1" />
<rect x="563.50" y="232.50" width="44.00" height="12.00" stroke="none" stroke-width="0" fill="#fff" />
<rect x="565.50" y="291.50" width="41.00" height="11.00" stroke="none" stroke-width="0" fill="#fff" />
<path d="M483.70,271.90 C485.92,270.02 491.85,264.22 497.00,260.60 C502.15,256.98 508.60,253.40 514.60,250.20 C520.60,247.00 526.47,244.08 533.00,241.40 C539.53,238.72 544.18,236.85 553.80,234.10 C563.42,231.35 578.40,227.43 590.70,224.90 C603.00,222.37 615.13,220.65 627.60,218.90 C640.07,217.15 659.18,215.15 665.50,214.40" fill="none" stroke="#3d6a66" stroke-width="2"/>
<path d="M483.50,331.00 C484.58,329.60 487.42,325.13 490.00,322.60 C492.58,320.07 494.87,318.18 499.00,315.80 C503.13,313.42 509.13,310.83 514.80,308.30 C520.47,305.77 526.65,302.97 533.00,300.60 C539.35,298.23 543.32,296.73 552.90,294.10 C562.48,291.47 578.00,287.35 590.50,284.80 C603.00,282.25 615.40,280.50 627.90,278.80 C640.40,277.10 659.23,275.30 665.50,274.60" fill="none" stroke="#3d6a66" stroke-width="2"/>
<text x="566.80" y="240.30" font-size="8.2" fill="#1a1a1a" textLength="36.60" lengthAdjust="spacing" stroke="#1a1a1a" stroke-width="0.25"><tspan>T</tspan><tspan font-size="5.5" dy="1.5">J</tspan><tspan dy="-1.5">= 125°C</tspan></text>
<text x="568.50" y="298.90" font-size="8.2" fill="#1a1a1a" textLength="35.00" lengthAdjust="spacing" stroke="#1a1a1a" stroke-width="0.25"><tspan>T</tspan><tspan font-size="5.5" dy="1.5">J</tspan><tspan dy="-1.5">=25°C</tspan></text>
<rect x="477.80" y="199.60" width="188.60" height="135.80" stroke="#222" stroke-width="1.3" fill="none" />
<text x="471.40" y="215.20" font-size="8.3" text-anchor="end" fill="#1a1a1a" stroke="#1a1a1a" stroke-width="0.3">100</text>
<text x="471.40" y="256.00" font-size="8.3" text-anchor="end" fill="#1a1a1a" stroke="#1a1a1a" stroke-width="0.3">10</text>
<text x="471.40" y="296.90" font-size="8.3" text-anchor="end" fill="#1a1a1a" stroke="#1a1a1a" stroke-width="0.3">1.0</text>
<text x="471.40" y="337.70" font-size="8.3" text-anchor="end" fill="#1a1a1a" stroke="#1a1a1a" stroke-width="0.3">0.1</text>
<text x="477.60" y="347.20" font-size="8.3" text-anchor="middle" fill="#1a1a1a" stroke="#1a1a1a" stroke-width="0.3">00</text>
<text x="514.90" y="347.20" font-size="8.3" text-anchor="middle" fill="#1a1a1a" stroke="#1a1a1a" stroke-width="0.3">20</text>
<text x="552.30" y="347.20" font-size="8.3" text-anchor="middle" fill="#1a1a1a" stroke="#1a1a1a" stroke-width="0.3">40</text>
<text x="589.50" y="347.20" font-size="8.3" text-anchor="middle" fill="#1a1a1a" stroke="#1a1a1a" stroke-width="0.3">60</text>
<text x="627.00" y="347.20" font-size="8.3" text-anchor="middle" fill="#1a1a1a" stroke="#1a1a1a" stroke-width="0.3">80</text>
<text x="665.50" y="347.20" font-size="8.3" text-anchor="middle" fill="#1a1a1a" stroke="#1a1a1a" stroke-width="0.3">100</text>
<text x="477.96" y="176.50" font-size="9.5" font-weight="bold" fill="#1a1a1a" letter-spacing="-0.3" textLength="171.83" lengthAdjust="spacing" stroke="#1a1a1a" stroke-width="0.35">Fig.2  Typical Reverse Characteristics</text>
<text x="473.69" y="363.70" font-size="9.5" fill="#1a1a1a" textLength="197.90" lengthAdjust="spacing">percent of Rated  Peak Reverse Voltage (%)</text>
<text transform="translate(446.00,273.00) rotate(-90)" x="0" y="0" font-size="9.5" text-anchor="middle" fill="#1a1a1a" textLength="147.00" lengthAdjust="spacing">Instaneous Reverse Current (μA)</text>
<line x1="156.80" y1="486.00" x2="345.50" y2="486.00" stroke="#9a9a9a" stroke-width="0.9" />
<line x1="156.80" y1="478.74" x2="345.50" y2="478.74" stroke="#9a9a9a" stroke-width="0.9" />
<line x1="156.80" y1="473.60" x2="345.50" y2="473.60" stroke="#9a9a9a" stroke-width="0.9" />
<line x1="156.80" y1="469.60" x2="345.50" y2="469.60" stroke="#9a9a9a" stroke-width="0.9" />
<line x1="156.80" y1="466.34" x2="345.50" y2="466.34" stroke="#9a9a9a" stroke-width="0.9" />
<line x1="156.80" y1="463.58" x2="345.50" y2="463.58" stroke="#9a9a9a" stroke-width="0.9" />
<line x1="156.80" y1="461.19" x2="345.50" y2="461.19" stroke="#9a9a9a" stroke-width="0.9" />
<line x1="156.80" y1="459.09" x2="345.50" y2="459.09" stroke="#9a9a9a" stroke-width="0.9" />
<line x1="156.80" y1="527.20" x2="345.50" y2="527.20" stroke="#9a9a9a" stroke-width="0.9" />
<line x1="156.80" y1="519.94" x2="345.50" y2="519.94" stroke="#9a9a9a" stroke-width="0.9" />
<line x1="156.80" y1="514.80" x2="345.50" y2="514.80" stroke="#9a9a9a" stroke-width="0.9" />
<line x1="156.80" y1="510.80" x2="345.50" y2="510.80" stroke="#9a9a9a" stroke-width="0.9" />
<line x1="156.80" y1="507.54" x2="345.50" y2="507.54" stroke="#9a9a9a" stroke-width="0.9" />
<line x1="156.80" y1="504.78" x2="345.50" y2="504.78" stroke="#9a9a9a" stroke-width="0.9" />
<line x1="156.80" y1="502.39" x2="345.50" y2="502.39" stroke="#9a9a9a" stroke-width="0.9" />
<line x1="156.80" y1="500.29" x2="345.50" y2="500.29" stroke="#9a9a9a" stroke-width="0.9" />
<line x1="156.80" y1="568.40" x2="345.50" y2="568.40" stroke="#9a9a9a" stroke-width="0.9" />
<line x1="156.80" y1="561.14" x2="345.50" y2="561.14" stroke="#9a9a9a" stroke-width="0.9" />
<line x1="156.80" y1="556.00" x2="345.50" y2="556.00" stroke="#9a9a9a" stroke-width="0.9" />
<line x1="156.80" y1="552.00" x2="345.50" y2="552.00" stroke="#9a9a9a" stroke-width="0.9" />
<line x1="156.80" y1="548.74" x2="345.50" y2="548.74" stroke="#9a9a9a" stroke-width="0.9" />
<line x1="156.80" y1="545.98" x2="345.50" y2="545.98" stroke="#9a9a9a" stroke-width="0.9" />
<line x1="156.80" y1="543.59" x2="345.50" y2="543.59" stroke="#9a9a9a" stroke-width="0.9" />
<line x1="156.80" y1="541.49" x2="345.50" y2="541.49" stroke="#9a9a9a" stroke-width="0.9" />
<line x1="156.80" y1="457.20" x2="345.50" y2="457.20" stroke="#3a3a3a" stroke-width="1.1" />
<line x1="156.80" y1="498.40" x2="345.50" y2="498.40" stroke="#3a3a3a" stroke-width="1.1" />
<line x1="156.80" y1="539.60" x2="345.50" y2="539.60" stroke="#3a3a3a" stroke-width="1.1" />
<line x1="175.67" y1="444.90" x2="175.67" y2="580.80" stroke="#3a3a3a" stroke-width="1.1" />
<line x1="194.54" y1="444.90" x2="194.54" y2="580.80" stroke="#3a3a3a" stroke-width="1.1" />
<line x1="213.41" y1="444.90" x2="213.41" y2="580.80" stroke="#3a3a3a" stroke-width="1.1" />
<line x1="232.28" y1="444.90" x2="232.28" y2="580.80" stroke="#3a3a3a" stroke-width="1.1" />
<line x1="251.15" y1="444.90" x2="251.15" y2="580.80" stroke="#3a3a3a" stroke-width="1.1" />
<line x1="270.02" y1="444.90" x2="270.02" y2="580.80" stroke="#3a3a3a" stroke-width="1.1" />
<line x1="288.89" y1="444.90" x2="288.89" y2="580.80" stroke="#3a3a3a" stroke-width="1.1" />
<line x1="307.76" y1="444.90" x2="307.76" y2="580.80" stroke="#3a3a3a" stroke-width="1.1" />
<line x1="326.63" y1="444.90" x2="326.63" y2="580.80" stroke="#3a3a3a" stroke-width="1.1" />
<rect x="158.30" y="451.40" width="39.00" height="9.00" stroke="none" stroke-width="0" fill="#fff" />
<rect x="158.30" y="460.20" width="70.80" height="22.60" stroke="none" stroke-width="0" fill="#fff" />
<rect x="234.30" y="528.30" width="107.40" height="40.70" stroke="none" stroke-width="0" fill="#fff" />
<g clip-path="url(#clip3)">
<clipPath id="clip3"><rect x="156.8" y="444.9000000000001" width="188.7" height="135.89999999999986"/></clipPath>
<path d="M172.57,580.80 C174.03,577.97 178.34,569.48 181.36,563.81 C184.38,558.15 187.50,552.49 190.71,546.83 C193.92,541.16 197.22,535.50 200.62,529.84 C204.01,524.18 207.50,518.51 211.08,512.85 C214.66,507.19 218.33,501.52 222.10,495.86 C225.86,490.20 229.72,484.54 233.67,478.88 C237.62,473.21 241.67,467.55 245.80,461.89 C249.94,456.23 256.37,447.73 258.49,444.90" fill="none" stroke="#3d6a66" stroke-width="2"/>
<path d="M183.03,580.80 C184.71,577.97 189.65,569.48 193.11,563.81 C196.57,558.15 200.12,552.49 203.78,546.83 C207.44,541.16 211.19,535.50 215.04,529.84 C218.90,524.18 222.85,518.51 226.90,512.85 C230.95,507.19 235.10,501.52 239.35,495.86 C243.59,490.20 247.94,484.54 252.39,478.88 C256.83,473.21 261.37,467.55 266.02,461.89 C270.66,456.23 277.87,447.73 280.24,444.90" fill="none" stroke="#3d6a66" stroke-width="2" stroke-dasharray="8,4"/>
<path d="M200.07,580.80 C201.77,577.97 206.69,569.48 210.22,563.81 C213.76,558.15 217.44,552.49 221.28,546.83 C225.12,541.16 229.11,535.50 233.25,529.84 C237.39,524.18 241.68,518.51 246.12,512.85 C250.56,507.19 255.15,501.52 259.90,495.86 C264.64,490.20 269.54,484.54 274.58,478.88 C279.63,473.21 284.83,467.55 290.18,461.89 C295.53,456.23 303.93,447.73 306.68,444.90" fill="none" stroke="#3d6a66" stroke-width="2" stroke-dasharray="4,4"/>
</g>
<rect x="156.80" y="444.90" width="188.70" height="135.90" stroke="#222" stroke-width="1.3" fill="none" />
<line x1="242.90" y1="537.20" x2="260.00" y2="537.20" stroke="#111" stroke-width="1.2" />
<line x1="242.90" y1="547.70" x2="260.00" y2="547.70" stroke="#111" stroke-width="1.2" stroke-dasharray="7,3"/>
<line x1="242.90" y1="558.90" x2="260.00" y2="558.90" stroke="#111" stroke-width="1.2" stroke-dasharray="3.5,3"/>
<text x="266.57" y="539.70" font-size="8.2" fill="#1a1a1a" textLength="64.06" lengthAdjust="spacing">US1AF~US1DF</text>
<text x="266.57" y="550.20" font-size="8.2" fill="#1a1a1a" textLength="29.06" lengthAdjust="spacing">US1GF</text>
<text x="266.57" y="561.50" font-size="8.2" fill="#1a1a1a" textLength="62.76" lengthAdjust="spacing">US1JF~US1MF</text>
<text x="161.80" y="459.30" font-size="8.4" fill="#1a1a1a" textLength="33.50" lengthAdjust="spacing" stroke="#1a1a1a" stroke-width="0.25"><tspan>T</tspan><tspan font-size="5.5" dy="1.5">J</tspan><tspan dy="-1.5">=25°C</tspan></text>
<text x="161.26" y="469.60" font-size="8.4" fill="#1a1a1a" textLength="66.04" lengthAdjust="spacing" stroke="#1a1a1a" stroke-width="0.25">pulse with 300μs</text>
<text x="161.16" y="479.90" font-size="8.4" fill="#1a1a1a" textLength="53.21" lengthAdjust="spacing" stroke="#1a1a1a" stroke-width="0.25">1% duty cycle</text>
<text x="151.50" y="448.30" font-size="8.5" text-anchor="end" fill="#1a1a1a" stroke="#1a1a1a" stroke-width="0.3">20</text>
<text x="151.50" y="460.10" font-size="8.5" text-anchor="end" fill="#1a1a1a" stroke="#1a1a1a" stroke-width="0.3">10</text>
<text x="151.50" y="494.30" font-size="8.5" text-anchor="end" fill="#1a1a1a" stroke="#1a1a1a" stroke-width="0.3">1.0</text>
<text x="151.50" y="539.30" font-size="8.5" text-anchor="end" fill="#1a1a1a" stroke="#1a1a1a" stroke-width="0.3">0.1</text>
<text x="151.50" y="583.40" font-size="8.5" text-anchor="end" fill="#1a1a1a" stroke="#1a1a1a" stroke-width="0.3">0.01</text>
<text x="158.10" y="593.70" font-size="8.3" text-anchor="middle" fill="#1a1a1a" stroke="#1a1a1a" stroke-width="0.3">0.0</text>
<text x="194.80" y="593.70" font-size="8.3" text-anchor="middle" fill="#1a1a1a" stroke="#1a1a1a" stroke-width="0.3">0.5</text>
<text x="232.40" y="593.70" font-size="8.3" text-anchor="middle" fill="#1a1a1a" stroke="#1a1a1a" stroke-width="0.3">1.0</text>
<text x="270.20" y="593.70" font-size="8.3" text-anchor="middle" fill="#1a1a1a" stroke="#1a1a1a" stroke-width="0.3">1.5</text>
<text x="307.40" y="593.70" font-size="8.3" text-anchor="middle" fill="#1a1a1a" stroke="#1a1a1a" stroke-width="0.3">2.0</text>
<text x="344.40" y="593.70" font-size="8.3" text-anchor="middle" fill="#1a1a1a" stroke="#1a1a1a" stroke-width="0.3">2.5</text>
<text x="156.36" y="418.00" font-size="9.5" font-weight="bold" fill="#1a1a1a" letter-spacing="-0.3" textLength="153.76" lengthAdjust="spacing" stroke="#1a1a1a" stroke-width="0.35">Fig.3  Typical Instaneous Forward</text>
<text x="185.01" y="428.20" font-size="9.5" font-weight="bold" fill="#1a1a1a" letter-spacing="-0.3" textLength="69.38" lengthAdjust="spacing" stroke="#1a1a1a" stroke-width="0.35">Characteristics</text>
<text x="176.92" y="609.30" font-size="9.5" fill="#1a1a1a" textLength="143.07" lengthAdjust="spacing">Instaneous Forward Voltage (V)</text>
<text transform="translate(125.00,512.00) rotate(-90)" x="0" y="0" font-size="9.5" text-anchor="middle" fill="#1a1a1a" textLength="144.00" lengthAdjust="spacing">Instaneous Forward Current (A)</text>
<line x1="477.80" y1="467.52" x2="666.80" y2="467.52" stroke="#3a3a3a" stroke-width="1.1" />
<line x1="477.80" y1="490.13" x2="666.80" y2="490.13" stroke="#3a3a3a" stroke-width="1.1" />
<line x1="477.80" y1="512.75" x2="666.80" y2="512.75" stroke="#3a3a3a" stroke-width="1.1" />
<line x1="477.80" y1="535.37" x2="666.80" y2="535.37" stroke="#3a3a3a" stroke-width="1.1" />
<line x1="477.80" y1="557.98" x2="666.80" y2="557.98" stroke="#3a3a3a" stroke-width="1.1" />
<line x1="506.25" y1="444.90" x2="506.25" y2="580.60" stroke="#3a3a3a" stroke-width="1.1" />
<line x1="522.89" y1="444.90" x2="522.89" y2="580.60" stroke="#aaa" stroke-width="1.1" />
<line x1="534.69" y1="444.90" x2="534.69" y2="580.60" stroke="#3a3a3a" stroke-width="1.1" />
<line x1="543.85" y1="444.90" x2="543.85" y2="580.60" stroke="#aaa" stroke-width="1.1" />
<line x1="551.34" y1="444.90" x2="551.34" y2="580.60" stroke="#3a3a3a" stroke-width="1.1" />
<line x1="557.66" y1="444.90" x2="557.66" y2="580.60" stroke="#3a3a3a" stroke-width="1.1" />
<line x1="563.14" y1="444.90" x2="563.14" y2="580.60" stroke="#aaa" stroke-width="1.1" />
<line x1="567.98" y1="444.90" x2="567.98" y2="580.60" stroke="#aaa" stroke-width="1.1" />
<line x1="572.30" y1="444.90" x2="572.30" y2="580.60" stroke="#3a3a3a" stroke-width="1.1" />
<line x1="600.75" y1="444.90" x2="600.75" y2="580.60" stroke="#3a3a3a" stroke-width="1.1" />
<line x1="617.39" y1="444.90" x2="617.39" y2="580.60" stroke="#aaa" stroke-width="1.1" />
<line x1="629.19" y1="444.90" x2="629.19" y2="580.60" stroke="#3a3a3a" stroke-width="1.1" />
<line x1="638.35" y1="444.90" x2="638.35" y2="580.60" stroke="#aaa" stroke-width="1.1" />
<line x1="645.84" y1="444.90" x2="645.84" y2="580.60" stroke="#3a3a3a" stroke-width="1.1" />
<line x1="652.16" y1="444.90" x2="652.16" y2="580.60" stroke="#3a3a3a" stroke-width="1.1" />
<line x1="657.64" y1="444.90" x2="657.64" y2="580.60" stroke="#aaa" stroke-width="1.1" />
<line x1="662.48" y1="444.90" x2="662.48" y2="580.60" stroke="#aaa" stroke-width="1.1" />
<rect x="482.70" y="546.70" width="104.00" height="23.10" stroke="none" stroke-width="0" fill="#fff" />
<path d="M477.80,467.52 C483.56,471.29 502.30,484.33 512.34,490.13 C522.38,495.94 528.05,497.86 538.04,502.35 C548.04,506.83 561.85,512.60 572.30,517.05 C582.75,521.50 593.23,526.06 600.75,529.03 C608.26,532.01 611.12,532.80 617.39,534.91 C623.66,537.03 630.12,539.25 638.35,541.70 C646.59,544.15 662.06,548.30 666.80,549.62" fill="none" stroke="#3d6a66" stroke-width="2"/>
<rect x="477.80" y="444.90" width="189.00" height="135.70" stroke="#222" stroke-width="1.3" fill="none" />
<text x="487.78" y="556.00" font-size="7.4" fill="#1a1a1a" textLength="96.05" lengthAdjust="spacing" stroke="#1a1a1a" stroke-width="0.3">8.3ms Single Half Sine Wave</text>
<text x="487.64" y="563.50" font-size="7.4" fill="#1a1a1a" textLength="56.32" lengthAdjust="spacing" stroke="#1a1a1a" stroke-width="0.3">(JEDEC Method)</text>
<text x="472.40" y="447.80" font-size="8.3" text-anchor="end" fill="#1a1a1a" stroke="#1a1a1a" stroke-width="0.3">30</text>
<text x="472.40" y="470.42" font-size="8.3" text-anchor="end" fill="#1a1a1a" stroke="#1a1a1a" stroke-width="0.3">25</text>
<text x="472.40" y="493.03" font-size="8.3" text-anchor="end" fill="#1a1a1a" stroke="#1a1a1a" stroke-width="0.3">20</text>
<text x="472.40" y="515.65" font-size="8.3" text-anchor="end" fill="#1a1a1a" stroke="#1a1a1a" stroke-width="0.3">15</text>
<text x="472.40" y="538.27" font-size="8.3" text-anchor="end" fill="#1a1a1a" stroke="#1a1a1a" stroke-width="0.3">10</text>
<text x="472.40" y="560.88" font-size="8.3" text-anchor="end" fill="#1a1a1a" stroke="#1a1a1a" stroke-width="0.3">05</text>
<text x="472.40" y="583.50" font-size="8.3" text-anchor="end" fill="#1a1a1a" stroke="#1a1a1a" stroke-width="0.3">00</text>
<text x="477.80" y="590.80" font-size="8.3" text-anchor="middle" fill="#1a1a1a" stroke="#1a1a1a" stroke-width="0.3">1</text>
<text x="572.30" y="590.80" font-size="8.3" text-anchor="middle" fill="#1a1a1a" stroke="#1a1a1a" stroke-width="0.3">10</text>
<text x="666.80" y="590.80" font-size="8.3" text-anchor="middle" fill="#1a1a1a" stroke="#1a1a1a" stroke-width="0.3">100</text>
<text x="481.66" y="421.00" font-size="9.5" font-weight="bold" fill="#1a1a1a" letter-spacing="-0.3" textLength="167.73" lengthAdjust="spacing" stroke="#1a1a1a" stroke-width="0.35">Fig.4  Maximum Non-Repetitive Peak</text>
<text x="509.36" y="431.70" font-size="9.5" font-weight="bold" fill="#1a1a1a" letter-spacing="-0.3" textLength="110.75" lengthAdjust="spacing" stroke="#1a1a1a" stroke-width="0.35">Forward Surage Current</text>
<text x="528.52" y="608.80" font-size="9.5" fill="#1a1a1a" textLength="80.42" lengthAdjust="spacing">Number of Cycles</text>
<text transform="translate(445.30,510.50) rotate(-90)" x="0" y="0" font-size="9.5" text-anchor="middle" fill="#1a1a1a" textLength="137.50" lengthAdjust="spacing">Peak Forward Surge Current (A)</text>
<text x="349.02" y="1085.60" font-size="13" fill="#1a1a1a" textLength="93.83" lengthAdjust="spacing">www.ejiguan.cn</text>
</g>
<text x="120.86" y="2387.20" font-size="17" font-weight="bold" fill="#1a1a1a" textLength="166.00" lengthAdjust="spacing">PACKAGE  OUTLINE</text>
<text x="121.20" y="2411.70" font-size="13.5" font-weight="bold" fill="#1a1a1a" textLength="267.66" lengthAdjust="spacing" stroke="#1a1a1a" stroke-width="0.3">Plastic surface mounted package; 2 leads</text>
<text x="589.98" y="2414.10" font-size="14.5" font-weight="bold" fill="#4d7479" textLength="41.15" lengthAdjust="spacing">SMAF</text>
<rect x="113.50" y="2426.50" width="566.60" height="494.40" stroke="#222" stroke-width="1.2" fill="none" />
<rect x="239.60" y="2519.50" width="28.00" height="5.80" stroke="#555" stroke-width="0.8" fill="#e6e6e6" rx="1"/>
<rect x="348.00" y="2519.50" width="27.70" height="5.80" stroke="#555" stroke-width="0.8" fill="#e6e6e6" rx="1"/>
<path d="M254.6,2523.6 L257.2,2489 Q257.6,2485.4 261.5,2485.4 L354.5,2485.4 Q358.4,2485.4 358.8,2489 L361.6,2521 Q361.8,2523.6 359,2523.6 Z" fill="#acaaaa" stroke="#222" stroke-width="1.2"/>
<line x1="308.10" y1="2466.00" x2="308.10" y2="2540.00" stroke="#777" stroke-width="0.7" stroke-dasharray="2,1.5"/>
<path d="M237.3,2473.4 Q256,2466 274.2,2473.4" fill="none" stroke="#333" stroke-width="0.7"/>
<line x1="254.00" y1="2469.00" x2="254.00" y2="2519.00" stroke="#444" stroke-width="0.6" />
<line x1="257.30" y1="2469.00" x2="257.30" y2="2486.00" stroke="#333" stroke-width="0.7" />
<text x="271.20" y="2469.70" font-size="8.3" fill="#1a1a1a" letter-spacing="-0.3" textLength="55.30" lengthAdjust="spacing">∠ALL ROUND</text>
<line x1="202.00" y1="2519.50" x2="236.00" y2="2519.50" stroke="#333" stroke-width="0.7" />
<line x1="202.00" y1="2525.30" x2="236.00" y2="2525.30" stroke="#333" stroke-width="0.7" />
<line x1="210.30" y1="2503.00" x2="210.30" y2="2519.50" stroke="#333" stroke-width="0.7" />
<polygon points="210.30,2519.50 208.90,2515.50 211.70,2515.50" fill="#222"/>
<line x1="210.30" y1="2525.30" x2="210.30" y2="2540.00" stroke="#333" stroke-width="0.7" />
<polygon points="210.30,2525.30 208.90,2529.30 211.70,2529.30" fill="#222"/>
<text transform="translate(198.80,2522.50) rotate(-90)" x="0" y="0" font-size="11" text-anchor="middle" fill="#1a1a1a" font-weight="bold">C</text>
<line x1="362.40" y1="2485.40" x2="415.80" y2="2485.40" stroke="#333" stroke-width="0.7" />
<line x1="382.40" y1="2523.60" x2="415.80" y2="2523.60" stroke="#333" stroke-width="0.7" />
<line x1="410.00" y1="2485.40" x2="410.00" y2="2523.60" stroke="#222" stroke-width="0.8" />
<polygon points="410.00,2485.40 408.60,2489.40 411.40,2489.40" fill="#222"/>
<polygon points="410.00,2523.60 408.60,2519.60 411.40,2519.60" fill="#222"/>
<rect x="402.00" y="2500.00" width="6.00" height="11.00" stroke="none" stroke-width="0" fill="#fff" />
<text transform="translate(407.60,2505.40) rotate(-90)" x="0" y="0" font-size="9" text-anchor="middle" fill="#1a1a1a">A</text>
<line x1="240.00" y1="2527.00" x2="240.00" y2="2558.00" stroke="#333" stroke-width="0.7" />
<line x1="375.70" y1="2527.00" x2="375.70" y2="2558.00" stroke="#333" stroke-width="0.7" />
<line x1="240.00" y1="2554.30" x2="375.70" y2="2554.30" stroke="#222" stroke-width="0.8" />
<polygon points="240.00,2554.30 244.00,2552.90 244.00,2555.70" fill="#222"/>
<polygon points="375.70,2554.30 371.70,2552.90 371.70,2555.70" fill="#222"/>
<rect x="297.00" y="2548.00" width="20.00" height="11.00" stroke="none" stroke-width="0" fill="#fff" />
<text x="301.50" y="2557.50" font-size="9" fill="#1a1a1a"><tspan>H</tspan><tspan font-size="5.5" dy="1">E</tspan></text>
<line x1="375.70" y1="2554.30" x2="397.00" y2="2554.30" stroke="#333" stroke-width="0.7" />
<polygon points="380.50,2554.30 384.50,2552.90 384.50,2555.70" fill="#222"/>
<rect x="398.00" y="2550.00" width="39.00" height="8.60" stroke="#444" stroke-width="0.6" fill="none" />
<line x1="407.50" y1="2550.00" x2="407.50" y2="2558.60" stroke="#444" stroke-width="0.6" />
<line x1="416.00" y1="2550.00" x2="416.00" y2="2558.60" stroke="#444" stroke-width="0.6" />
<line x1="427.50" y1="2550.00" x2="427.50" y2="2558.60" stroke="#444" stroke-width="0.6" />
<text x="402.80" y="2556.60" font-size="6" text-anchor="middle" fill="#1a1a1a">⌖</text>
<text x="411.80" y="2556.60" font-size="5.5" text-anchor="middle" fill="#1a1a1a">V</text>
<circle cx="421.8" cy="2554.3" r="3" fill="none" stroke="#444" stroke-width="0.6"/>
<text x="421.80" y="2556.20" font-size="4.2" text-anchor="middle" fill="#1a1a1a">M</text>
<text x="432.30" y="2556.60" font-size="5.5" text-anchor="middle" fill="#1a1a1a">A</text>
<path d="M498.6,2520 L501,2489.5 Q501.5,2486 505,2486 L560,2486 Q563.6,2486 564,2489.5 L566.8,2520 Q567,2523 564,2523 L501.5,2523 Q498.4,2523 498.6,2520 Z" fill="#acaaaa" stroke="#222" stroke-width="1.2"/>
<rect x="513.40" y="2519.50" width="37.90" height="5.00" stroke="#444" stroke-width="0.8" fill="#f2f2f2" />
<line x1="532.70" y1="2476.00" x2="532.70" y2="2534.00" stroke="#777" stroke-width="0.7" stroke-dasharray="2,1.5"/>
<path d="M480.8,2472.6 Q499,2466 517.8,2472.6" fill="none" stroke="#333" stroke-width="0.7"/>
<line x1="498.40" y1="2469.50" x2="498.40" y2="2519.00" stroke="#444" stroke-width="0.6" />
<line x1="501.50" y1="2469.50" x2="501.50" y2="2486.00" stroke="#333" stroke-width="0.7" />
<text x="516.30" y="2469.70" font-size="8.3" fill="#1a1a1a" letter-spacing="-0.3" textLength="53.80" lengthAdjust="spacing">∠ALL ROUND</text>
<line x1="498.60" y1="2528.00" x2="498.60" y2="2558.00" stroke="#333" stroke-width="0.7" />
<line x1="566.20" y1="2528.00" x2="566.20" y2="2558.00" stroke="#333" stroke-width="0.7" />
<line x1="498.60" y1="2553.30" x2="566.20" y2="2553.30" stroke="#222" stroke-width="0.8" />
<polygon points="498.60,2553.30 502.60,2551.90 502.60,2554.70" fill="#222"/>
<polygon points="566.20,2553.30 562.20,2551.90 562.20,2554.70" fill="#222"/>
<rect x="526.00" y="2547.00" width="13.00" height="11.00" stroke="none" stroke-width="0" fill="#fff" />
<text x="532.70" y="2557.00" font-size="9.5" text-anchor="middle" fill="#1a1a1a">E</text>
<rect x="239.50" y="2653.60" width="16.00" height="38.00" stroke="#555" stroke-width="0.7" fill="#e6e6e6" />
<rect x="360.50" y="2653.60" width="16.40" height="38.00" stroke="#555" stroke-width="0.7" fill="#e6e6e6" />
<rect x="254.70" y="2638.00" width="106.60" height="67.80" stroke="#333" stroke-width="1.4" fill="#c4c4c4" rx="4"/>
<rect x="257.00" y="2640.30" width="102.00" height="63.20" stroke="#333" stroke-width="0.7" fill="none" rx="3"/>
<line x1="224.60" y1="2672.60" x2="392.40" y2="2672.60" stroke="#555" stroke-width="0.6" stroke-dasharray="5,2,1,2"/>
<line x1="308.70" y1="2631.60" x2="308.70" y2="2713.40" stroke="#555" stroke-width="0.6" stroke-dasharray="5,2,1,2"/>
<text x="288.91" y="2727.80" font-size="8.6" fill="#1a1a1a" textLength="34.57" lengthAdjust="spacing" stroke="#1a1a1a" stroke-width="0.25">Top View</text>
<line x1="207.30" y1="2638.00" x2="245.40" y2="2638.00" stroke="#333" stroke-width="0.7" />
<line x1="207.30" y1="2705.80" x2="245.40" y2="2705.80" stroke="#333" stroke-width="0.7" />
<line x1="212.50" y1="2638.00" x2="212.50" y2="2705.80" stroke="#222" stroke-width="0.8" />
<polygon points="212.50,2638.00 211.10,2642.00 213.90,2642.00" fill="#222"/>
<polygon points="212.50,2705.80 211.10,2701.80 213.90,2701.80" fill="#222"/>
<rect x="208.00" y="2666.00" width="9.00" height="12.00" stroke="none" stroke-width="0" fill="#fff" />
<text transform="translate(215.60,2672.30) rotate(-90)" x="0" y="0" font-size="9" text-anchor="middle" fill="#1a1a1a">E</text>
<line x1="255.00" y1="2611.50" x2="255.00" y2="2632.00" stroke="#333" stroke-width="0.7" />
<line x1="360.60" y1="2611.50" x2="360.60" y2="2632.00" stroke="#333" stroke-width="0.7" />
<line x1="255.00" y1="2615.00" x2="360.60" y2="2615.00" stroke="#222" stroke-width="0.8" />
<polygon points="255.00,2615.00 259.00,2613.60 259.00,2616.40" fill="#222"/>
<polygon points="360.60,2615.00 356.60,2613.60 356.60,2616.40" fill="#222"/>
<rect x="299.00" y="2609.00" width="15.00" height="11.00" stroke="none" stroke-width="0" fill="#fff" />
<text x="306.60" y="2618.30" font-size="9.5" text-anchor="middle" fill="#1a1a1a">D</text>
<line x1="363.60" y1="2611.50" x2="363.60" y2="2618.50" stroke="#333" stroke-width="0.7" />
<line x1="363.60" y1="2615.00" x2="373.60" y2="2615.00" stroke="#333" stroke-width="0.7" />
<circle cx="378.6" cy="2615.0" r="4.6" fill="none" stroke="#333" stroke-width="0.7"/>
<text x="378.60" y="2618.10" font-size="7.5" text-anchor="middle" fill="#1a1a1a">A</text>
<rect x="479.50" y="2638.20" width="105.90" height="67.40" stroke="#333" stroke-width="1.4" fill="#c4c4c4" rx="4"/>
<rect x="464.30" y="2653.00" width="27.30" height="38.10" stroke="#555" stroke-width="0.8" fill="#ebebeb" />
<text transform="translate(475.75,2672.00) rotate(90)" x="0" y="0" font-size="7" text-anchor="middle" fill="#1a1a1a" font-weight="bold">pad</text>
<line x1="464.30" y1="2611.50" x2="464.30" y2="2646.00" stroke="#333" stroke-width="0.7" />
<line x1="491.60" y1="2611.50" x2="491.60" y2="2646.00" stroke="#333" stroke-width="0.7" />
<line x1="464.30" y1="2617.80" x2="491.60" y2="2617.80" stroke="#222" stroke-width="0.8" />
<polygon points="464.30,2617.80 468.30,2616.40 468.30,2619.20" fill="#222"/>
<polygon points="491.60,2617.80 487.60,2616.40 487.60,2619.20" fill="#222"/>
<text x="477.95" y="2613.50" font-size="9" text-anchor="middle" fill="#1a1a1a">g</text>
<rect x="574.00" y="2653.00" width="26.60" height="38.10" stroke="#555" stroke-width="0.8" fill="#ebebeb" />
<text transform="translate(585.10,2672.00) rotate(90)" x="0" y="0" font-size="7" text-anchor="middle" fill="#1a1a1a" font-weight="bold">pad</text>
<line x1="574.00" y1="2611.50" x2="574.00" y2="2646.00" stroke="#333" stroke-width="0.7" />
<line x1="600.60" y1="2611.50" x2="600.60" y2="2646.00" stroke="#333" stroke-width="0.7" />
<line x1="574.00" y1="2617.80" x2="600.60" y2="2617.80" stroke="#222" stroke-width="0.8" />
<polygon points="574.00,2617.80 578.00,2616.40 578.00,2619.20" fill="#222"/>
<polygon points="600.60,2617.80 596.60,2616.40 596.60,2619.20" fill="#222"/>
<text x="587.30" y="2613.50" font-size="9" text-anchor="middle" fill="#1a1a1a">g</text>
<line x1="435.60" y1="2653.00" x2="464.30" y2="2653.00" stroke="#333" stroke-width="0.7" />
<line x1="435.60" y1="2691.10" x2="464.30" y2="2691.10" stroke="#333" stroke-width="0.7" />
<line x1="440.80" y1="2653.00" x2="440.80" y2="2691.10" stroke="#222" stroke-width="0.8" />
<polygon points="440.80,2653.00 439.40,2657.00 442.20,2657.00" fill="#222"/>
<polygon points="440.80,2691.10 439.40,2687.10 442.20,2687.10" fill="#222"/>
<text transform="translate(436.20,2672.00) rotate(-90)" x="0" y="0" font-size="9" text-anchor="middle" fill="#1a1a1a">e</text>
<text x="508.31" y="2728.60" font-size="8.4" fill="#1a1a1a" textLength="51.67" lengthAdjust="spacing" stroke="#1a1a1a" stroke-width="0.25">Bottom  View</text>
<rect x="170.70" y="2770.80" width="452.70" height="112.50" stroke="#222" stroke-width="1.3" fill="none" />
<line x1="170.70" y1="2793.10" x2="623.40" y2="2793.10" stroke="#222" stroke-width="1.1" />
<line x1="170.70" y1="2838.40" x2="578.13" y2="2838.40" stroke="#222" stroke-width="1.1" />
<line x1="215.97" y1="2815.60" x2="578.13" y2="2815.60" stroke="#222" stroke-width="1" />
<line x1="215.97" y1="2861.10" x2="578.13" y2="2861.10" stroke="#222" stroke-width="1" />
<line x1="215.97" y1="2770.80" x2="215.97" y2="2883.30" stroke="#222" stroke-width="1.1" />
<line x1="261.24" y1="2770.80" x2="261.24" y2="2883.30" stroke="#222" stroke-width="1" />
<line x1="306.51" y1="2770.80" x2="306.51" y2="2883.30" stroke="#222" stroke-width="1" />
<line x1="351.78" y1="2770.80" x2="351.78" y2="2883.30" stroke="#222" stroke-width="1" />
<line x1="397.05" y1="2770.80" x2="397.05" y2="2883.30" stroke="#222" stroke-width="1" />
<line x1="442.32" y1="2770.80" x2="442.32" y2="2883.30" stroke="#222" stroke-width="1" />
<line x1="487.59" y1="2770.80" x2="487.59" y2="2883.30" stroke="#222" stroke-width="1" />
<line x1="532.86" y1="2770.80" x2="532.86" y2="2883.30" stroke="#222" stroke-width="1" />
<line x1="578.13" y1="2770.80" x2="578.13" y2="2883.30" stroke="#222" stroke-width="1.1" />
<text x="193.33" y="2786.30" font-size="12" text-anchor="middle" fill="#1a1a1a" letter-spacing="0.6" dx="0.3">UNIT</text>
<text x="283.88" y="2786.30" font-size="12" text-anchor="middle" fill="#1a1a1a" letter-spacing="0.6" dx="0.3">A</text>
<text x="329.14" y="2786.30" font-size="12" text-anchor="middle" fill="#1a1a1a" letter-spacing="0.6" dx="0.3">C</text>
<text x="374.41" y="2786.30" font-size="12" text-anchor="middle" fill="#1a1a1a" letter-spacing="0.6" dx="0.3">D</text>
<text x="419.69" y="2786.30" font-size="12" text-anchor="middle" fill="#1a1a1a" letter-spacing="0.6" dx="0.3">E</text>
<text x="464.96" y="2786.30" font-size="12" text-anchor="middle" fill="#1a1a1a" letter-spacing="0.6" dx="0.3">e</text>
<text x="510.23" y="2786.30" font-size="12" text-anchor="middle" fill="#1a1a1a" letter-spacing="0.6" dx="0.3">g</text>
<text x="551.00" y="2785.30" font-size="9" fill="#1a1a1a"><tspan>H</tspan><tspan font-size="6" dy="1.5">E</tspan></text>
<text x="600.77" y="2786.30" font-size="10" text-anchor="middle" fill="#1a1a1a">∠</text>
<text x="193.33" y="2818.70" font-size="12" text-anchor="middle" fill="#1a1a1a" letter-spacing="0.6" dx="0.3">mm</text>
<text x="193.33" y="2865.50" font-size="12" text-anchor="middle" fill="#1a1a1a" letter-spacing="0.6" dx="0.3">mil</text>
<text x="238.61" y="2808.70" font-size="12" text-anchor="middle" fill="#1a1a1a" letter-spacing="0.6" dx="0.3">max</text>
<text x="238.61" y="2831.30" font-size="12" text-anchor="middle" fill="#1a1a1a" letter-spacing="0.6" dx="0.3">min</text>
<text x="238.61" y="2854.10" font-size="12" text-anchor="middle" fill="#1a1a1a" letter-spacing="0.6" dx="0.3">max</text>
<text x="238.61" y="2876.50" font-size="12" text-anchor="middle" fill="#1a1a1a" letter-spacing="0.6" dx="0.3">min</text>
<text x="283.88" y="2808.70" font-size="12" text-anchor="middle" fill="#1a1a1a" letter-spacing="0.6" dx="0.3">1.3</text>
<text x="329.14" y="2808.70" font-size="12" text-anchor="middle" fill="#1a1a1a" letter-spacing="0.6" dx="0.3">0.23</text>
<text x="374.41" y="2808.70" font-size="12" text-anchor="middle" fill="#1a1a1a" letter-spacing="0.6" dx="0.3">3.7</text>
<text x="419.69" y="2808.70" font-size="12" text-anchor="middle" fill="#1a1a1a" letter-spacing="0.6" dx="0.3">2.7</text>
<text x="464.96" y="2808.70" font-size="12" text-anchor="middle" fill="#1a1a1a" letter-spacing="0.6" dx="0.3">1.6</text>
<text x="510.23" y="2808.70" font-size="12" text-anchor="middle" fill="#1a1a1a" letter-spacing="0.6" dx="0.3">1.3</text>
<text x="555.50" y="2808.70" font-size="12" text-anchor="middle" fill="#1a1a1a" letter-spacing="0.6" dx="0.3">4.9</text>
<text x="283.88" y="2831.30" font-size="12" text-anchor="middle" fill="#1a1a1a" letter-spacing="0.6" dx="0.3">1.1</text>
<text x="329.14" y="2831.30" font-size="12" text-anchor="middle" fill="#1a1a1a" letter-spacing="0.6" dx="0.3">0.18</text>
<text x="374.41" y="2831.30" font-size="12" text-anchor="middle" fill="#1a1a1a" letter-spacing="0.6" dx="0.3">3.3</text>
<text x="419.69" y="2831.30" font-size="12" text-anchor="middle" fill="#1a1a1a" letter-spacing="0.6" dx="0.3">2.4</text>
<text x="464.96" y="2831.30" font-size="12" text-anchor="middle" fill="#1a1a1a" letter-spacing="0.6" dx="0.3">1.3</text>
<text x="510.23" y="2831.30" font-size="12" text-anchor="middle" fill="#1a1a1a" letter-spacing="0.6" dx="0.3">1.0</text>
<text x="555.50" y="2831.30" font-size="12" text-anchor="middle" fill="#1a1a1a" letter-spacing="0.6" dx="0.3">4.4</text>
<text x="283.88" y="2854.10" font-size="12" text-anchor="middle" fill="#1a1a1a" letter-spacing="0.6" dx="0.3">51</text>
<text x="329.14" y="2854.10" font-size="12" text-anchor="middle" fill="#1a1a1a" letter-spacing="0.6" dx="0.3">9.1</text>
<text x="374.41" y="2854.10" font-size="12" text-anchor="middle" fill="#1a1a1a" letter-spacing="0.6" dx="0.3">146</text>
<text x="419.69" y="2854.10" font-size="12" text-anchor="middle" fill="#1a1a1a" letter-spacing="0.6" dx="0.3">106</text>
<text x="464.96" y="2854.10" font-size="12" text-anchor="middle" fill="#1a1a1a" letter-spacing="0.6" dx="0.3">63</text>
<text x="510.23" y="2854.10" font-size="12" text-anchor="middle" fill="#1a1a1a" letter-spacing="0.6" dx="0.3">51</text>
<text x="555.50" y="2854.10" font-size="12" text-anchor="middle" fill="#1a1a1a" letter-spacing="0.6" dx="0.3">193</text>
<text x="283.88" y="2876.50" font-size="12" text-anchor="middle" fill="#1a1a1a" letter-spacing="0.6" dx="0.3">43</text>
<text x="329.14" y="2876.50" font-size="12" text-anchor="middle" fill="#1a1a1a" letter-spacing="0.6" dx="0.3">7.1</text>
<text x="374.41" y="2876.50" font-size="12" text-anchor="middle" fill="#1a1a1a" letter-spacing="0.6" dx="0.3">130</text>
<text x="419.69" y="2876.50" font-size="12" text-anchor="middle" fill="#1a1a1a" letter-spacing="0.6" dx="0.3">94</text>
<text x="464.96" y="2876.50" font-size="12" text-anchor="middle" fill="#1a1a1a" letter-spacing="0.6" dx="0.3">51</text>
<text x="510.23" y="2876.50" font-size="12" text-anchor="middle" fill="#1a1a1a" letter-spacing="0.6" dx="0.3">39</text>
<text x="555.50" y="2876.50" font-size="12" text-anchor="middle" fill="#1a1a1a" letter-spacing="0.6" dx="0.3">173</text>
<text x="600.77" y="2843.00" font-size="12" text-anchor="middle" fill="#1a1a1a" letter-spacing="0.6" dx="0.3">7°</text>
<text x="122.33" y="2964.70" font-size="14.8" font-weight="bold" fill="#1a1a1a" textLength="240.87" lengthAdjust="spacing" stroke="#1a1a1a" stroke-width="0.3">The recommended mounting pad size</text>
<rect x="113.00" y="2982.70" width="320.30" height="169.60" stroke="#222" stroke-width="1.2" fill="none" />
<path d="M174.1,3057.5 L181.0,3049.7 L220.4,3049.7 L220.4,3101.3 L181.0,3101.3 L174.1,3093.5 Z" fill="#d6d6d6" stroke="#222" stroke-width="0.9"/>
<rect x="295.70" y="3049.70" width="45.70" height="51.60" stroke="#222" stroke-width="0.9" fill="#d6d6d6" />
<line x1="169.80" y1="3075.60" x2="346.80" y2="3075.60" stroke="#888" stroke-width="0.7" stroke-dasharray="3,1.5,1,1.5"/>
<line x1="174.10" y1="3017.50" x2="174.10" y2="3042.50" stroke="#333" stroke-width="0.7" />
<line x1="220.40" y1="3017.50" x2="220.40" y2="3042.50" stroke="#333" stroke-width="0.7" />
<line x1="295.70" y1="3017.50" x2="295.70" y2="3042.50" stroke="#333" stroke-width="0.7" />
<line x1="341.40" y1="3017.50" x2="341.40" y2="3042.50" stroke="#333" stroke-width="0.7" />
<line x1="174.10" y1="3021.90" x2="220.40" y2="3021.90" stroke="#222" stroke-width="0.8" />
<polygon points="174.10,3021.90 178.10,3020.50 178.10,3023.30" fill="#222"/>
<polygon points="220.40,3021.90 216.40,3020.50 216.40,3023.30" fill="#222"/>
<line x1="220.40" y1="3021.90" x2="295.70" y2="3021.90" stroke="#222" stroke-width="0.8" />
<polygon points="220.40,3021.90 224.40,3020.50 224.40,3023.30" fill="#222"/>
<polygon points="295.70,3021.90 291.70,3020.50 291.70,3023.30" fill="#222"/>
<line x1="295.70" y1="3021.90" x2="341.40" y2="3021.90" stroke="#222" stroke-width="0.8" />
<polygon points="295.70,3021.90 299.70,3020.50 299.70,3023.30" fill="#222"/>
<polygon points="341.40,3021.90 337.40,3020.50 337.40,3023.30" fill="#222"/>
<text x="183.88" y="3017.80" font-size="8.2" fill="#1a1a1a" textLength="28.93" lengthAdjust="spacing" stroke="#1a1a1a" stroke-width="0.15">1.6(63)</text>
<text x="241.89" y="3018.20" font-size="8.2" fill="#1a1a1a" textLength="35.12" lengthAdjust="spacing" stroke="#1a1a1a" stroke-width="0.15">2.8(110)</text>
<text x="304.38" y="3017.80" font-size="8.2" fill="#1a1a1a" textLength="29.13" lengthAdjust="spacing" stroke="#1a1a1a" stroke-width="0.15">1.6(63)</text>
<line x1="351.30" y1="3049.70" x2="372.60" y2="3049.70" stroke="#333" stroke-width="0.7" />
<line x1="351.30" y1="3101.30" x2="372.60" y2="3101.30" stroke="#333" stroke-width="0.7" />
<line x1="370.00" y1="3049.70" x2="370.00" y2="3101.30" stroke="#222" stroke-width="0.8" />
<polygon points="370.00,3049.70 368.60,3053.70 371.40,3053.70" fill="#222"/>
<polygon points="370.00,3101.30 368.60,3097.30 371.40,3097.30" fill="#222"/>
<text transform="translate(380.80,3074.50) rotate(-90)" x="0" y="0" font-size="8.2" text-anchor="middle" fill="#1a1a1a" textLength="28.50" lengthAdjust="spacing">1.8(71)</text>
<text x="365.03" y="3131.20" font-size="7.8" font-weight="bold" fill="#1a1a1a" textLength="19.22" lengthAdjust="spacing">Unit:</text>
<text x="387.98" y="3131.20" font-size="7.8" fill="#1a1a1a" textLength="31.40" lengthAdjust="spacing" stroke="#1a1a1a" stroke-width="0.15">mm(mil)</text>
<text x="490.90" y="2973.80" font-size="13.5" font-weight="bold" fill="#1a1a1a" textLength="52.81" lengthAdjust="spacing" stroke="#1a1a1a" stroke-width="0.3">Marking</text>
<rect x="490.90" y="2988.90" width="189.20" height="155.22" stroke="#222" stroke-width="1.3" fill="none" />
<line x1="490.90" y1="3011.40" x2="680.10" y2="3011.40" stroke="#222" stroke-width="1.1" />
<line x1="490.90" y1="3030.36" x2="680.10" y2="3030.36" stroke="#222" stroke-width="0.9" />
<line x1="490.90" y1="3049.32" x2="680.10" y2="3049.32" stroke="#222" stroke-width="0.9" />
<line x1="490.90" y1="3068.28" x2="680.10" y2="3068.28" stroke="#222" stroke-width="0.9" />
<line x1="490.90" y1="3087.24" x2="680.10" y2="3087.24" stroke="#222" stroke-width="0.9" />
<line x1="490.90" y1="3106.20" x2="680.10" y2="3106.20" stroke="#222" stroke-width="0.9" />
<line x1="490.90" y1="3125.16" x2="680.10" y2="3125.16" stroke="#222" stroke-width="0.9" />
<line x1="585.50" y1="2988.90" x2="585.50" y2="3144.12" stroke="#222" stroke-width="1" />
<text x="508.76" y="3004.20" font-size="10.5" fill="#1a1a1a" textLength="67.81" lengthAdjust="spacing">Type number</text>
<text x="595.14" y="3004.20" font-size="10.5" fill="#1a1a1a" textLength="70.53" lengthAdjust="spacing">Marking code</text>
<text x="519.90" y="3024.50" font-size="9.5" fill="#1a1a1a" letter-spacing="0.55">US1AF</text>
<text x="614.10" y="3024.50" font-size="9.5" fill="#1a1a1a" letter-spacing="0.55">US1A</text>
<text x="519.90" y="3043.46" font-size="9.5" fill="#1a1a1a" letter-spacing="0.55">US1BF</text>
<text x="614.10" y="3043.46" font-size="9.5" fill="#1a1a1a" letter-spacing="0.55">US1B</text>
<text x="519.90" y="3062.42" font-size="9.5" fill="#1a1a1a" letter-spacing="0.55">US1DF</text>
<text x="614.10" y="3062.42" font-size="9.5" fill="#1a1a1a" letter-spacing="0.55">US1D</text>
<text x="519.90" y="3081.38" font-size="9.5" fill="#1a1a1a" letter-spacing="0.55">US1GF</text>
<text x="614.10" y="3081.38" font-size="9.5" fill="#1a1a1a" letter-spacing="0.55">US1G</text>
<text x="519.90" y="3100.34" font-size="9.5" fill="#1a1a1a" letter-spacing="0.55">US1JF</text>
<text x="614.10" y="3100.34" font-size="9.5" fill="#1a1a1a" letter-spacing="0.55">US1J</text>
<text x="519.90" y="3119.30" font-size="9.5" fill="#1a1a1a" letter-spacing="0.55">US1KF</text>
<text x="614.10" y="3119.30" font-size="9.5" fill="#1a1a1a" letter-spacing="0.55">US1K</text>
<text x="519.90" y="3138.26" font-size="9.5" fill="#1a1a1a" letter-spacing="0.55">US1MF</text>
<text x="614.10" y="3138.26" font-size="9.5" fill="#1a1a1a" letter-spacing="0.55">US1M</text>
<text x="349.32" y="3329.40" font-size="13" fill="#1a1a1a" textLength="93.53" lengthAdjust="spacing">www.ejiguan.cn</text>
</svg>
</body></html>
